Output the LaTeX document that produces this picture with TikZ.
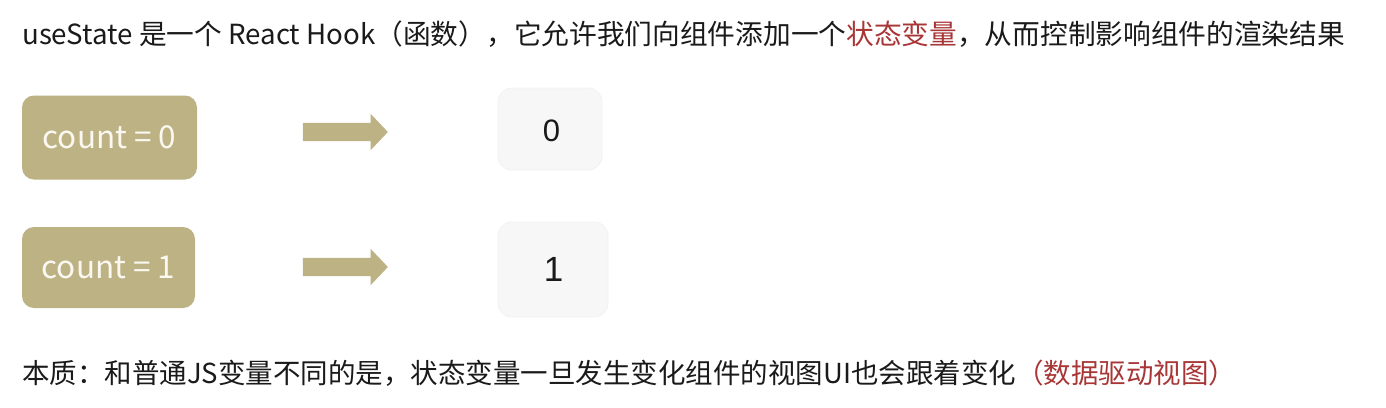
\documentclass[tikz,border=0pt]{standalone}
\usepackage{fontspec}
\setmainfont{Noto Sans CJK SC}
\newfontfamily\digitfont{Liberation Sans}
\usetikzlibrary{shapes.arrows}
\definecolor{khaki}{HTML}{BDB284}
\definecolor{hlred}{HTML}{A83636}
\definecolor{txt}{HTML}{1A1A1A}
\definecolor{resfill}{HTML}{F7F7F7}
\definecolor{resedge}{HTML}{F2F2F2}
\definecolor{boxtext}{HTML}{FAF8F0}
\begin{document}
\begin{tikzpicture}[x=1pt,y=1pt,
  bigtext/.style={inner sep=0pt, anchor=base west, text=txt},
  countbox/.style={fill=khaki, rounded corners=12pt, inner sep=0pt, text=boxtext, font=\fontsize{31.5}{36}\selectfont},
  resbox/.style={fill=resfill, draw=resedge, line width=0.8pt, rounded corners=14pt, inner sep=0pt, text=txt},
  blockarrow/.style={single arrow, fill=khaki, inner sep=0pt, minimum height=85pt, minimum width=36pt, single arrow head extend=9pt, single arrow tip angle=93, shape border rotate=0}
]
\useasboundingbox (0,0) rectangle (1386,-407);
\fill[white] (0,0) rectangle (1386,-407);

\node[bigtext, font=\fontsize{27.7}{32}\selectfont] (title) at (22,-44) {useState 是一个 React Hook（函数），它允许我们向组件添加一个\textcolor{hlred}{状态变量}，从而控制影响组件的渲染结果};

\node[countbox, minimum width=175pt, minimum height=84pt] (c0) at (109.5,-137.5) {count = 0};
\node[countbox, minimum width=173pt, minimum height=81pt] (c1) at (108.5,-267.5) {count = 1};

\node[blockarrow] (a0) at (341,-132) {\rule{0pt}{18pt}};
\node[blockarrow] (a1) at (341,-267) {\rule{0pt}{18pt}};

\node[resbox, minimum width=104pt, minimum height=82pt] (r0) at (550,-129) {};
\node[resbox, minimum width=110pt, minimum height=95pt] (r1) at (553,-269.5) {};
\node[inner sep=0pt, text=txt, font=\digitfont\fontsize{31}{36}\selectfont] (d0) at (551.5,-131) {0};
\node[inner sep=0pt, text=txt, font=\digitfont\fontsize{35}{40}\selectfont] (d1) at (553.5,-269.5) {1};

\node[bigtext, font=\fontsize{27.5}{32}\selectfont] (note) at (22,-383) {本质：和普通JS变量不同的是，状态变量一旦发生变化组件的视图UI也会跟着变化\textcolor{hlred}{（数据驱动视图）}};
\end{tikzpicture}
\end{document}
